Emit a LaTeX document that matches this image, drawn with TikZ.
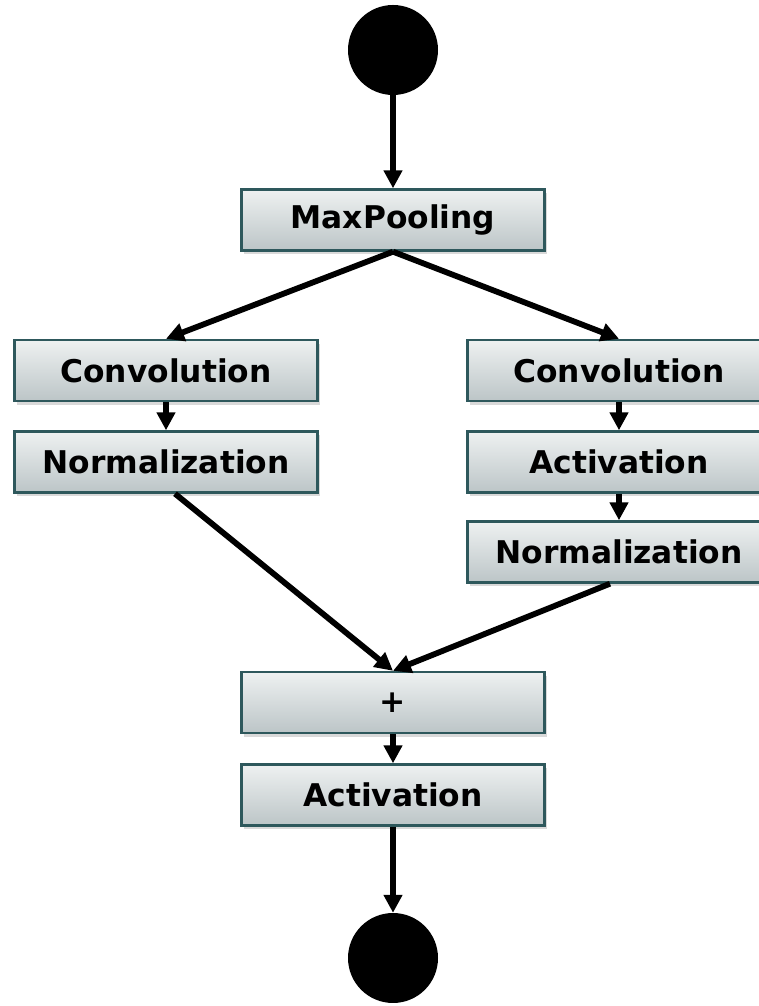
\documentclass[tikz,border=0pt]{standalone}
\usepackage{fontspec}
\setmainfont{DejaVu Sans}
\usepackage{xcolor}
\usetikzlibrary{calc,
	positioning,
	shadows,
	arrows.meta}
\definecolor{boxtop}{HTML}{EEF1F1}
\definecolor{boxbot}{HTML}{BCC5C7}
\definecolor{boxline}{HTML}{2E585C}
\tikzstyle{layer}=[draw=boxline, line width=2.4pt, top color=boxtop,
		bottom color=boxbot, minimum width=303pt, minimum height=61pt,
		inner sep=0pt, font=\fontsize{31.3}{36}\selectfont\bfseries,
		drop shadow={opacity=0.3, shadow xshift=2pt, shadow yshift=-4pt}]
\tikzstyle{terminal}=[circle, fill=black, minimum size=90pt, inner sep=0pt]
\tikzstyle{flow}=[line width=5.8pt, -{Triangle[length=18pt, width=18pt]}]

\begin{document}
\begin{tikzpicture}[x=1pt, y=1pt]
                \useasboundingbox (0,0) rectangle (758,1006);
                % input and pooling
                \node[terminal] (start) at (393,956) {};
                \node[layer] (pool) at (393,786) {MaxPooling};
                % left branch
                \node[layer] (convL) at (166,635.5) {Convolution};
                \node[layer] (normL) at (166,544) {Normalization};
                % right branch
                \node[layer] (convR) at (619,635.5) {Convolution};
                \node[layer] (actR) at (619,544) {Activation};
                \node[layer] (normR) at (619,454) {Normalization};
                % merge and output
                \node[layer] (add) at (393,303.5) {+};
                \node[layer] (act) at (393,211) {Activation};
                \node[terminal] (stop) at (393,48) {};

                \draw[flow] (start) -- (pool);
                \draw[flow] (pool.south) -- (convL.north);
                \draw[flow] (pool.south) -- (convR.north);
                \draw[flow] (convL) -- (normL);
                \draw[flow] (convR) -- (actR);
                \draw[flow] (actR) -- (normR);
                \draw[flow] ($(normL.south)+(9,0)$) -- (add.north);
                \draw[flow] ($(normR.south)+(-9,0)$) -- (add.north);
                \draw[flow] (add) -- (act);
                \draw[flow] (act) -- (stop);
\end{tikzpicture}
\end{document}
